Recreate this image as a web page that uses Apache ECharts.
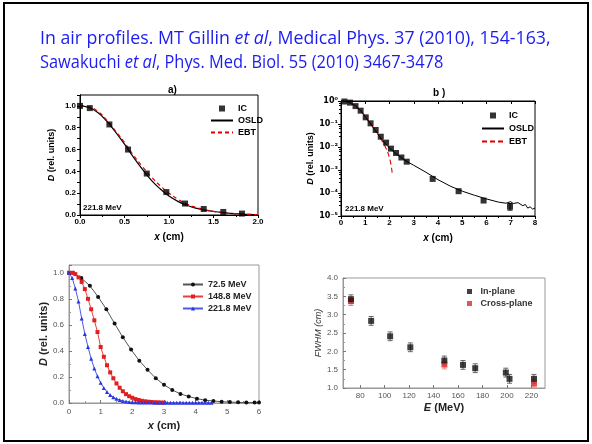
<!DOCTYPE html>
<html><head><meta charset="utf-8">
<script src="https://cdn.jsdelivr.net/npm/echarts@6/dist/echarts.min.js"></script>
<style>html,body{margin:0;padding:0;background:#fff}#c{width:592px;height:444px}</style>
</head><body><div id="c"></div>
<script>
// ---- Panel a (221.8 MeV, linear) ----
const aX_IC = [0, 0.11, 0.33, 0.54, 0.75, 0.97, 1.18, 1.39, 1.61, 1.82];
const aY_IC = [1.0, 0.98, 0.83, 0.60, 0.38, 0.21, 0.105, 0.055, 0.028, 0.013];
const aX_line = [0,0.1,0.2,0.3,0.4,0.5,0.6,0.7,0.8,0.9,1.0,1.1,1.2,1.3,1.4,1.5,1.6,1.7,1.8,1.9,2.0];
const aY_OSLD = [1.0,0.985,0.94,0.86,0.76,0.65,0.53,0.42,0.32,0.24,0.175,0.125,0.09,0.063,0.045,0.032,0.022,0.015,0.01,0.006,0.004];
const aY_EBT  = [1.0,0.99,0.95,0.87,0.77,0.665,0.55,0.445,0.35,0.27,0.2,0.145,0.1,0.07,0.048,0.033,0.022,0.014,0.009,0.006,0.004];
// ---- Panel b (221.8 MeV, log) ----
const bX_IC = [0.14,0.37,0.6,0.81,1.02,1.22,1.43,1.64,1.86,2.06,2.27,2.49,2.71,3.78,4.85,5.88,6.97];
const bY_IC = [0.95,0.85,0.6,0.38,0.195,0.107,0.055,0.028,0.0155,0.0085,0.0055,0.0035,0.0023,4.1e-4,1.2e-4,4.7e-5,2.55e-5];
const bX_OSLD = [0,0.3,0.6,0.8,1.0,1.2,1.4,1.6,1.8,2.0,2.2,2.4,2.6,2.8,3.0,3.5,4.0,4.5,5.0,5.5,6.0,6.5,6.8,7.0,7.1,7.3,7.5,7.6,7.7,7.8,7.9,8.0];
const bY_OSLD = [1,0.9,0.62,0.4,0.2,0.11,0.055,0.028,0.015,0.009,0.0058,0.004,0.0028,0.0021,0.0016,8e-4,3.8e-4,2e-4,1.2e-4,8e-5,5.5e-5,4e-5,3.6e-5,4.2e-5,3.5e-5,3.8e-5,2.8e-5,3.2e-5,2.2e-5,2.5e-5,2e-5,2.2e-5];
const bX_EBT = [0,0.4,0.8,1.2,1.5,1.7,1.85,1.95,2.05,2.12];
const bY_EBT = [1,0.8,0.38,0.105,0.04,0.018,0.009,0.005,0.002,0.0006];
const bErrX = [6.97], bErrLo = [1.8e-5], bErrHi = [3.5e-5];
// ---- Panel c (profiles for three energies) ----
const cX72 = [0,0.13,0.39,0.66,0.92,1.18,1.44,1.7,1.96,2.22,2.48,2.74,3.0,3.26,3.52,3.78,4.04,4.3,4.56,4.82,5.08,5.34,5.6,5.86,6.0];
const cY72 = [1.0,1.0,0.96,0.90,0.815,0.72,0.61,0.505,0.41,0.325,0.255,0.19,0.14,0.10,0.07,0.05,0.033,0.022,0.015,0.01,0.007,0.005,0.004,0.003,0.003];
const cX148 = [0,0.1,0.2,0.3,0.4,0.5,0.6,0.7,0.8,0.9,1.0,1.1,1.2,1.3,1.4,1.5,1.6,1.7,1.8,1.9,2.0,2.1,2.2,2.3,2.4,2.5,2.6,2.7,2.8,2.9,3.0];
const cY148 = [1.0,1.0,0.99,0.965,0.93,0.875,0.80,0.72,0.635,0.545,0.43,0.355,0.29,0.235,0.19,0.15,0.117,0.09,0.068,0.052,0.04,0.03,0.023,0.017,0.013,0.01,0.008,0.006,0.005,0.004,0.003];
const cX221 = [0,0.1,0.2,0.3,0.4,0.5,0.6,0.7,0.8,0.9,1.0,1.1,1.2,1.3,1.4,1.5,1.6,1.7,1.8,1.9,2.0,2.1,2.2,2.3,2.4,2.5,2.6,2.7,2.8,2.9,3.0,3.1,3.2,3.3,3.4,3.5,3.6,3.7,3.8,3.9,4.0,4.1,4.2,4.3,4.4,4.5];
const cY221 = [1.0,0.96,0.88,0.78,0.65,0.53,0.43,0.34,0.265,0.205,0.155,0.115,0.085,0.062,0.045,0.032,0.023,0.016,0.011,0.008,0.006,0.005,0.004,0.004,0.003,0.003,0.003,0.002,0.002,0.002,0.002,0.002,0.002,0.002,0.001,0.001,0.001,0.001,0.001,0.001,0.001,0.001,0.001,0.001,0.001,0.001];
const cNames = ['72.5 MeV','148.8 MeV','221.8 MeV'];
// ---- Panel d (FWHM vs energy) ----
const dE_in = [72.5,89,104.5,121,148.8,164,174,199,202,222];
const dF_in = [3.42,2.83,2.41,2.11,1.75,1.63,1.54,1.42,1.25,1.25];
const dE_cross = [72.5,148.8,222];
const dF_cross = [3.37,1.64,1.12];
const dErr = 0.12;
const dXLabels = [80,100,120,140,160,180,200,220];

const zip = (xs, ys) => xs.map((x, i) => [x, ys[i]]);
const F = 'Liberation Sans';
const SUP = {'0':'⁰','1':'¹','2':'²','3':'³','4':'⁴','5':'⁵','-':'⁻'};
const supExp = v => { const e = Math.round(Math.log10(v)); return '10' + String(e).split('').map(c => SUP[c]).join(''); };
const SQ = 'path://M0,0L10,0L10,10L0,10Z';
const NOSYM = {color: 'rgba(0,0,0,0)', borderWidth: 0};

const lbl = (size, color) => ({fontFamily: F, fontSize: size, fontWeight: 'bold', color: color || '#000'});

function mirrorX(grid, min, max, interval) {
  return {gridIndex: grid, type: 'value', position: 'top', min, max, interval,
    axisLine: {show: true, lineStyle: {color: '#000'}}, axisTick: {show: true, inside: true, length: 3, lineStyle: {color: '#000'}},
    axisLabel: {show: false}, splitLine: {show: false}};
}

const errRender = (params, api) => {
  const x = api.value(0), lo = api.value(1), hi = api.value(2);
  const p1 = api.coord([x, lo]), p2 = api.coord([x, hi]);
  const st = {stroke: api.visual('color') || '#333', lineWidth: 1};
  return {type: 'group', children: [
    {type: 'line', shape: {x1: p1[0], y1: p1[1], x2: p2[0], y2: p2[1]}, style: st},
    {type: 'line', shape: {x1: p1[0]-2.5, y1: p1[1], x2: p1[0]+2.5, y2: p1[1]}, style: st},
    {type: 'line', shape: {x1: p2[0]-2.5, y1: p2[1], x2: p2[0]+2.5, y2: p2[1]}, style: st}
  ]};
};

const option = {
  animation: false,
  backgroundColor: '#fff',
  grid: [
    {left: 80, top: 95, width: 178, height: 120, show: true, borderColor: '#000', borderWidth: 1},
    {left: 341, top: 101, width: 194, height: 115, show: true, borderColor: '#000', borderWidth: 1},
    {left: 69, top: 265, width: 190, height: 138, show: true, borderColor: '#999', borderWidth: 1},
    {left: 343, top: 278, width: 202, height: 110, show: true, borderColor: '#999', borderWidth: 1}
  ],
  title: [
    {text: 'a)', left: 163, top: 80, textStyle: lbl(10)},
    {text: 'b )', left: 428, top: 83, textStyle: lbl(10)}
  ],
  legend: [
    {data: [{name: 'IC', icon: SQ}, {name: 'OSLD', itemStyle: NOSYM}, {name: 'EBT', itemStyle: NOSYM}],
      orient: 'vertical', left: 205, top: 99, itemWidth: 22, itemHeight: 6, itemGap: 3, symbolKeepAspect: true, textStyle: lbl(9)},
    {data: [{name: 'IC ', icon: SQ}, {name: 'OSLD ', itemStyle: NOSYM}, {name: 'EBT ', itemStyle: NOSYM}],
      orient: 'vertical', left: 476, top: 106, itemWidth: 22, itemHeight: 6, itemGap: 4, symbolKeepAspect: true, textStyle: lbl(9)},
    {data: cNames, orient: 'vertical', left: 177, top: 275, itemWidth: 20, itemHeight: 5, itemGap: 3, textStyle: lbl(9, '#222')},
    {data: [{name: 'In-plane', icon: SQ}, {name: 'Cross-plane', icon: SQ}], orient: 'vertical', left: 462, top: 282,
      itemWidth: 12, itemHeight: 5, itemGap: 3, symbolKeepAspect: true, textStyle: lbl(9, '#333')}
  ],
  xAxis: [
    {gridIndex: 0, type: 'value', min: 0, max: 2, interval: 0.5,
      name: '{i|x} (cm)', nameLocation: 'middle', nameGap: 17,
      nameTextStyle: {fontFamily: F, fontSize: 10, fontWeight: 'bold', rich: {i: {fontFamily: F, fontSize: 10, fontWeight: 'bold', fontStyle: 'italic'}}},
      axisLine: {lineStyle: {color: '#000'}}, axisTick: {length: 3, lineStyle: {color: '#000'}},
      minorTick: {show: true, splitNumber: 2, length: 2, lineStyle: {color: '#000'}},
      axisLabel: Object.assign(lbl(8), {margin: 3, formatter: v => v.toFixed(1)}), splitLine: {show: false}},
    mirrorX(0, 0, 2, 0.5),
    {gridIndex: 1, type: 'value', min: 0, max: 8, interval: 1,
      name: '{i|x} (cm)', nameLocation: 'middle', nameGap: 17,
      nameTextStyle: {fontFamily: F, fontSize: 10, fontWeight: 'bold', rich: {i: {fontFamily: F, fontSize: 10, fontWeight: 'bold', fontStyle: 'italic'}}},
      axisLine: {lineStyle: {color: '#000'}}, axisTick: {length: 3, lineStyle: {color: '#000'}},
      minorTick: {show: true, splitNumber: 2, length: 2, lineStyle: {color: '#000'}},
      axisLabel: Object.assign(lbl(8), {margin: 3}), splitLine: {show: false}},
    mirrorX(1, 0, 8, 1),
    {gridIndex: 2, type: 'value', min: 0, max: 6, interval: 1,
      name: '{i|x} (cm)', nameLocation: 'middle', nameGap: 17,
      nameTextStyle: {fontFamily: F, fontSize: 11, fontWeight: 'bold', color: '#222', rich: {i: {fontFamily: F, fontSize: 11, fontWeight: 'bold', fontStyle: 'italic', color: '#222'}}},
      axisLine: {lineStyle: {color: '#999'}}, axisTick: {inside: true, length: 3, lineStyle: {color: '#777'}},
      minorTick: {show: true, splitNumber: 2, length: 2, lineStyle: {color: '#999'}},
      axisLabel: Object.assign(lbl(8, '#555'), {fontWeight: 'normal', margin: 5}), splitLine: {show: false}},
    {gridIndex: 3, type: 'value', min: 66, max: 231,
      name: '{i|E} (MeV)', nameLocation: 'middle', nameGap: 14,
      nameTextStyle: {fontFamily: F, fontSize: 11, fontWeight: 'bold', color: '#222', rich: {i: {fontFamily: F, fontSize: 11, fontWeight: 'bold', fontStyle: 'italic', color: '#222'}}},
      axisLine: {lineStyle: {color: '#999'}}, axisTick: {inside: true, length: 3, customValues: dXLabels, lineStyle: {color: '#777'}},
      axisLabel: Object.assign(lbl(8, '#555'), {fontWeight: 'normal', margin: 4, customValues: dXLabels}), splitLine: {show: false}}
  ],
  yAxis: [
    {gridIndex: 0, type: 'value', min: 0, max: 1.1, interval: 0.1,
      name: '{i|D} (rel. units)', nameLocation: 'middle', nameGap: 24,
      nameTextStyle: {fontFamily: F, fontSize: 9, fontWeight: 'bold', rich: {i: {fontFamily: F, fontSize: 9, fontWeight: 'bold', fontStyle: 'italic'}}},
      axisLine: {show: true, lineStyle: {color: '#000'}}, axisTick: {length: 3, lineStyle: {color: '#000'}},
      axisLabel: Object.assign(lbl(8), {margin: 4, formatter: v => (Math.abs(v * 5 - Math.round(v * 5)) < 1e-6 && v <= 1.0001) ? v.toFixed(1) : ''}), splitLine: {show: false}},
    {gridIndex: 0, type: 'value', position: 'right', min: 0, max: 1.1, interval: 0.1,
      axisLine: {show: true, lineStyle: {color: '#000'}}, axisTick: {inside: true, length: 3, lineStyle: {color: '#000'}},
      axisLabel: {show: false}, splitLine: {show: false}},
    {gridIndex: 1, type: 'log', logBase: 10, min: 1e-5, max: 1,
      name: '{i|D} (rel. units)', nameLocation: 'middle', nameGap: 22,
      nameTextStyle: {fontFamily: F, fontSize: 9, fontWeight: 'bold', rich: {i: {fontFamily: F, fontSize: 9, fontWeight: 'bold', fontStyle: 'italic'}}},
      axisLine: {show: true, lineStyle: {color: '#000'}}, axisTick: {length: 3, lineStyle: {color: '#000'}},
      minorTick: {show: true, splitNumber: 5, length: 2, lineStyle: {color: '#000'}},
      axisLabel: Object.assign(lbl(8), {fontFamily: 'DejaVu Sans', margin: 3, formatter: v => supExp(v)}), splitLine: {show: false}},
    {gridIndex: 1, type: 'log', logBase: 10, position: 'right', min: 1e-5, max: 1,
      axisLine: {show: true, lineStyle: {color: '#000'}}, axisTick: {inside: true, length: 3, lineStyle: {color: '#000'}},
      axisLabel: {show: false}, splitLine: {show: false}},
    {gridIndex: 2, type: 'value', min: 0, max: 1.06, interval: 0.2,
      name: '{i|D} (rel. units)', nameLocation: 'middle', nameGap: 20,
      nameTextStyle: {fontFamily: F, fontSize: 11, fontWeight: 'bold', color: '#222', rich: {i: {fontFamily: F, fontSize: 11, fontWeight: 'bold', fontStyle: 'italic', color: '#222'}}},
      axisLine: {show: true, lineStyle: {color: '#999'}}, axisTick: {inside: true, length: 3, lineStyle: {color: '#777'}},
      minorTick: {show: true, splitNumber: 2, length: 2, lineStyle: {color: '#999'}},
      axisLabel: Object.assign(lbl(8, '#555'), {fontWeight: 'normal', margin: 5, formatter: v => v > 1.0001 ? '' : v.toFixed(1)}), splitLine: {show: false}},
    {gridIndex: 3, type: 'value', min: 1, max: 4, interval: 0.5,
      name: 'FWHM (cm)', nameLocation: 'middle', nameGap: 20,
      nameTextStyle: {fontFamily: F, fontSize: 9, fontStyle: 'italic', color: '#333'},
      axisLine: {show: true, lineStyle: {color: '#999'}}, axisTick: {inside: true, length: 3, lineStyle: {color: '#777'}},
      minorTick: {show: true, splitNumber: 2, length: 2, lineStyle: {color: '#999'}},
      axisLabel: Object.assign(lbl(8, '#555'), {fontWeight: 'normal', margin: 5, formatter: v => v.toFixed(1)}), splitLine: {show: false}}
  ],
  series: [
    // a
    {name: 'IC', type: 'scatter', xAxisIndex: 0, yAxisIndex: 0, data: zip(aX_IC, aY_IC), symbol: 'rect', symbolSize: 6, itemStyle: {color: '#000'}, z: 5},
    {name: 'OSLD', type: 'line', xAxisIndex: 0, yAxisIndex: 0, data: zip(aX_line, aY_OSLD), smooth: true, symbol: 'none', lineStyle: {color: '#000', width: 1.2}, itemStyle: {color: '#000'}},
    {name: 'EBT', type: 'line', xAxisIndex: 0, yAxisIndex: 0, data: zip(aX_line, aY_EBT), smooth: true, symbol: 'none', lineStyle: {color: '#e00000', width: 1.2, type: [4, 3]}, itemStyle: {color: '#e00000'}},
    // b
    {name: 'IC ', type: 'scatter', xAxisIndex: 2, yAxisIndex: 2, data: zip(bX_IC, bY_IC), symbol: 'rect', symbolSize: 6, itemStyle: {color: '#000'}, z: 5},
    {name: 'OSLD ', type: 'line', xAxisIndex: 2, yAxisIndex: 2, data: zip(bX_OSLD, bY_OSLD), symbol: 'none', lineStyle: {color: '#000', width: 1}, itemStyle: {color: '#000'}},
    {name: 'EBT ', type: 'line', xAxisIndex: 2, yAxisIndex: 2, data: zip(bX_EBT, bY_EBT), smooth: true, symbol: 'none', lineStyle: {color: '#e00000', width: 1.1, type: [5, 3]}, itemStyle: {color: '#e00000'}},
    {type: 'custom', xAxisIndex: 2, yAxisIndex: 2, renderItem: errRender, itemStyle: {color: '#000'}, data: bErrX.map((x, i) => [x, bErrLo[i], bErrHi[i]]), z: 4},
    // c
    {name: cNames[0], type: 'line', xAxisIndex: 4, yAxisIndex: 4, data: zip(cX72, cY72), symbol: 'circle', symbolSize: 4, lineStyle: {color: '#555', width: 1}, itemStyle: {color: '#111'}},
    {name: cNames[1], type: 'line', xAxisIndex: 4, yAxisIndex: 4, data: zip(cX148, cY148), symbol: 'rect', symbolSize: 4, lineStyle: {color: '#e84040', width: 1}, itemStyle: {color: '#e02020'}},
    {name: cNames[2], type: 'line', xAxisIndex: 4, yAxisIndex: 4, data: zip(cX221, cY221), symbol: 'triangle', symbolSize: 4, lineStyle: {color: '#4a5ae8', width: 1}, itemStyle: {color: '#2a35e0'}},
    // d
    {type: 'custom', xAxisIndex: 5, yAxisIndex: 5, renderItem: errRender, itemStyle: {color: '#666'}, data: dE_in.map((e, i) => [e, dF_in[i] - dErr, dF_in[i] + dErr]), z: 2},
    {type: 'custom', xAxisIndex: 5, yAxisIndex: 5, renderItem: errRender, itemStyle: {color: '#e88'}, data: dE_cross.map((e, i) => [e, dF_cross[i] - dErr, dF_cross[i] + dErr]), z: 2},
    {name: 'In-plane', type: 'scatter', xAxisIndex: 5, yAxisIndex: 5, data: zip(dE_in, dF_in), symbol: 'rect', symbolSize: 6, itemStyle: {color: '#111'}, z: 4},
    {name: 'Cross-plane', type: 'scatter', xAxisIndex: 5, yAxisIndex: 5, data: zip(dE_cross, dF_cross), symbol: 'rect', symbolSize: 6, itemStyle: {color: '#e02828'}, z: 3}
  ],
  graphic: [
    {type: 'rect', shape: {x: 4, y: 3, width: 584, height: 438}, style: {fill: 'none', stroke: '#000', lineWidth: 2}, silent: true},
    {type: 'text', x: 40, y: 30, scaleX: 0.985, style: {
      text: 'In air profiles. MT Gillin {i|et al}, Medical Phys. 37 (2010), 154-163,',
      fontFamily: 'Open Sans', fontSize: 18, fill: '#1c1cf2',
      rich: {i: {fontFamily: 'Open Sans', fontSize: 18, fontStyle: 'italic', fill: '#1c1cf2'}}}},
    {type: 'text', x: 40, y: 54, scaleX: 0.91, style: {
      text: 'Sawakuchi {i|et al}, Phys. Med. Biol. 55 (2010) 3467-3478',
      fontFamily: 'Open Sans', fontSize: 18, fill: '#1c1cf2',
      rich: {i: {fontFamily: 'Open Sans', fontSize: 18, fontStyle: 'italic', fill: '#1c1cf2'}}}},
    {type: 'text', left: 83, top: 204, style: {text: '221.8 MeV', fontFamily: F, fontSize: 8, fontWeight: 'bold', fill: '#000'}},
    {type: 'text', left: 345, top: 205, style: {text: '221.8 MeV', fontFamily: F, fontSize: 8, fontWeight: 'bold', fill: '#000'}}
  ]
};
const chart = echarts.init(document.getElementById('c'), null, {renderer: 'canvas'});
chart.setOption(option);
</script></body></html>
